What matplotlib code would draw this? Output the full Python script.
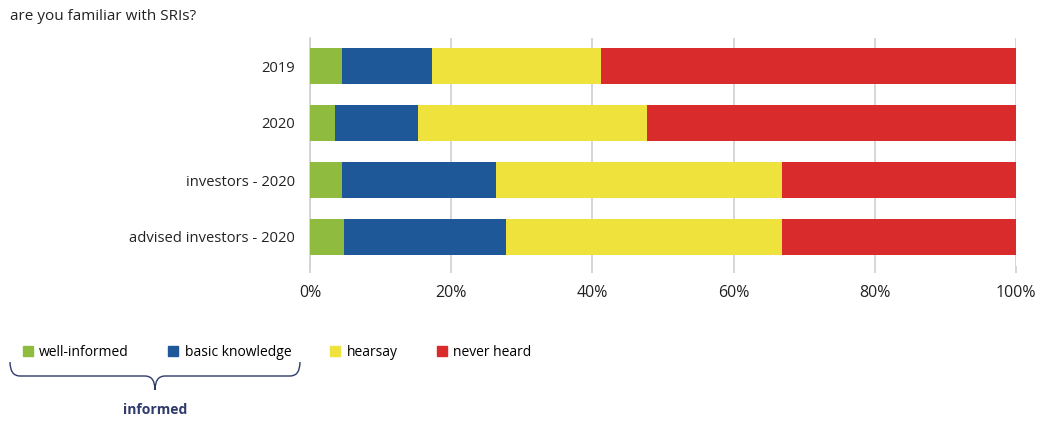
import numpy as np
import matplotlib.pyplot as plt
from matplotlib.path import Path
import matplotlib.patches as mpatches

plt.rcParams['font.family'] = ['Open Sans', 'DejaVu Sans']

# data
groups = ["2019", "2020", "investors - 2020", "advised investors - 2020"]
categories = ["well-informed", "basic knowledge", "hearsay", "never heard"]
well_informed = [4.6, 3.5, 4.6, 4.8]
basic_knowledge = [12.7, 11.8, 21.7, 23.0]
hearsay = [23.9, 32.4, 40.6, 39.1]
never_heard = [58.8, 52.3, 33.1, 33.1]
xticks = [0, 20, 40, 60, 80, 100]

colors = ["#8fbb3e", "#1e5899", "#efe23c", "#d92a2c"]
series = [well_informed, basic_knowledge, hearsay, never_heard]

W, H = 1053, 421
fig = plt.figure(figsize=(W / 100, H / 100), dpi=100)
ax = fig.add_axes([310 / W, 1 - 265.5 / H, (1016 - 310) / W, (265.5 - 37.5) / H])

y = np.arange(len(groups))
left = np.zeros(len(groups))
for vals, col, name in zip(series, colors, categories):
    ax.barh(y, vals, left=left, height=0.63, color=col, label=name, zorder=3)
    left += np.array(vals)

ax.set_ylim(len(groups) - 0.5, -0.5)
ax.set_xlim(0, 100)
ax.set_yticks(y)
ax.set_yticklabels(groups, fontsize=10.6, color="#222222")
ax.set_xticks(xticks)
ax.set_xticklabels([f"{t}%" for t in xticks], fontsize=11.5, color="#222222")
ax.xaxis.grid(True, color="#d0d0d4", linewidth=1.2, zorder=0)
for s in ["top", "right", "bottom"]:
    ax.spines[s].set_visible(False)
ax.spines["left"].set_color("#d0d0d4")
ax.spines["left"].set_linewidth(1.2)
ax.tick_params(axis="y", length=0, pad=11)
ax.tick_params(axis="x", length=5, color="#d0d0d4", width=1.2, pad=9)

fig.text(10 / W, 1 - 16 / H, "are you familiar with SRIs?", fontsize=11,
         color="#222222", va="center", ha="left")

# legend
handles = [mpatches.Patch(color=c, label=n) for c, n in zip(colors, categories)]
leg = fig.legend(handles=handles, loc="center left",
                 bbox_to_anchor=(17 / W, 1 - 352 / H), ncol=4, frameon=False,
                 fontsize=10, handlelength=0.75, handleheight=0.75,
                 handletextpad=0.45, columnspacing=2.8, borderaxespad=0)

# brace under first two legend entries
x0, x1, xm = 10 / W, 300 / W, 155 / W
yt, ymid, yb = 1 - 362 / H, 1 - 376 / H, 1 - 390 / H
r = 10 / W
verts = [(x0, yt), (x0, ymid), (x0 + r, ymid),
         (xm - r, ymid), (xm, ymid), (xm, yb),
         (xm, ymid), (xm + r, ymid),
         (x1 - r, ymid), (x1, ymid), (x1, yt)]
codes = [Path.MOVETO, Path.CURVE3, Path.CURVE3,
         Path.LINETO, Path.CURVE3, Path.CURVE3,
         Path.CURVE3, Path.CURVE3,
         Path.LINETO, Path.CURVE3, Path.CURVE3]
brace = mpatches.PathPatch(Path(verts, codes), transform=fig.transFigure,
                           fill=False, edgecolor="#2e3a6a", linewidth=1.0)
fig.patches.append(brace)
fig.text(xm, 1 - 410 / H, "informed", fontsize=10, fontweight="bold",
         color="#2e3a6a", ha="center", va="center")

fig.savefig("out.png", dpi=100)
